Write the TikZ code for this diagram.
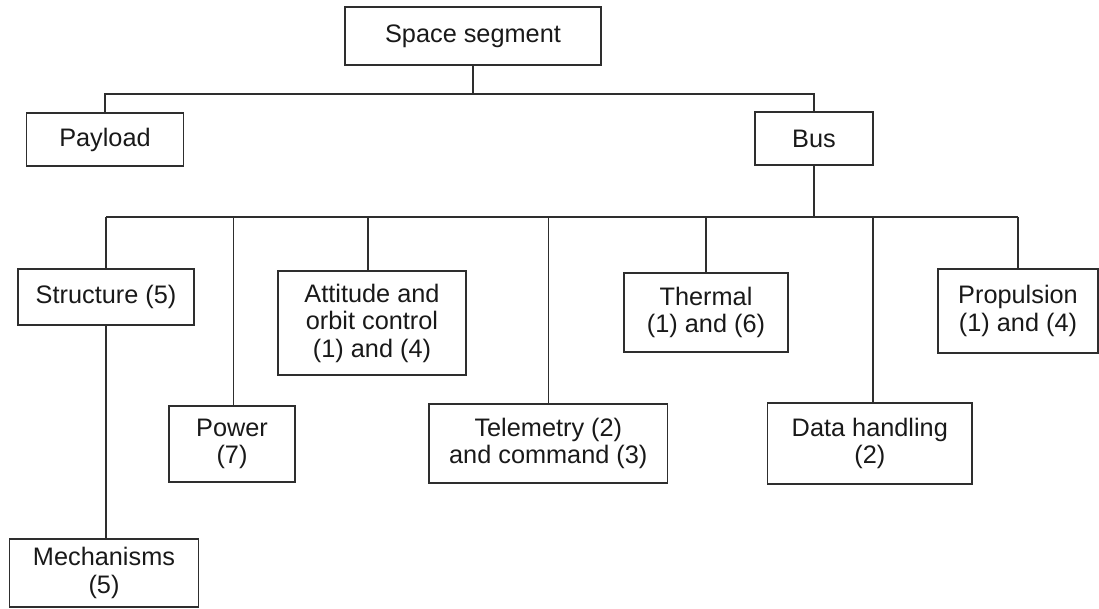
\documentclass[tikz,border=0pt]{standalone}
\usepackage{fontspec}
\setmainfont{Liberation Sans}
\begin{document}
\begin{tikzpicture}[x=1pt,y=-1pt,
  box/.style={draw=black!82, line width=1.6pt, inner sep=0pt, align=center,
    text=black!90, font=\fontsize{25.3}{27.5}\selectfont},
  link/.style={draw=black!82, line width=1.5pt}]
\useasboundingbox (0,0) rectangle (1099,609);
\node[box, minimum width=256pt, minimum height=58pt] (space) at (473,36) {Space segment};
\node[box, minimum width=157pt, minimum height=53pt] (payload) at (105,139.5) {Payload};
\node[box, minimum width=118pt, minimum height=53pt] (bus) at (814,138.5) {Bus};
\node[box, minimum width=176pt, minimum height=56pt] (structure) at (106,297) {Structure (5)};
\node[box, minimum width=189pt, minimum height=68pt] (mech) at (104,573) {Mechanisms\\(5)};
\node[box, minimum width=126pt, minimum height=76pt] (power) at (232,443.7) {Power\\(7)};
\node[box, minimum width=188pt, minimum height=104pt] (attitude) at (372,323) {Attitude and\\orbit control\\(1) and (4)};
\node[box, minimum width=238.6pt, minimum height=79pt] (telemetry) at (548.3,443.2) {Telemetry (2)\\and command (3)};
\node[box, minimum width=164pt, minimum height=78.7pt] (thermal) at (706,312.4) {Thermal\\(1) and (6)};
\node[box, minimum width=204.5pt, minimum height=80.7pt] (data) at (869.8,443.4) {Data handling\\(2)};
\node[box, minimum width=160pt, minimum height=84pt] (propulsion) at (1018,311) {Propulsion\\(1) and (4)};
\coordinate (h1) at (473,94);
\coordinate (h2) at (814,217);
% level 1
\draw[link] (space.south) -- (h1);
\draw[link] (payload.north) -- (payload.north |- h1) -- (bus.north |- h1) -- (bus.north);
% level 2
\draw[link] (bus.south) -- (h2);
\draw[link] (structure.north |- h2) -- (propulsion.north |- h2);
\draw[link] (structure.north) -- (structure.north |- h2);
\draw[link] ([xshift=1.6pt]power.north) -- ([xshift=1.6pt]power.north |- h2);
\draw[link] ([xshift=-4pt]attitude.north) -- ([xshift=-4pt]attitude.north |- h2);
\draw[link] (telemetry.north) -- (telemetry.north |- h2);
\draw[link] (thermal.north) -- (thermal.north |- h2);
\draw[link] ([xshift=3pt]data.north) -- ([xshift=3pt]data.north |- h2);
\draw[link] (propulsion.north) -- (propulsion.north |- h2);
% structure to mechanisms
\draw[link] (structure.south) -- (structure.south |- mech.north);
\end{tikzpicture}
\end{document}
